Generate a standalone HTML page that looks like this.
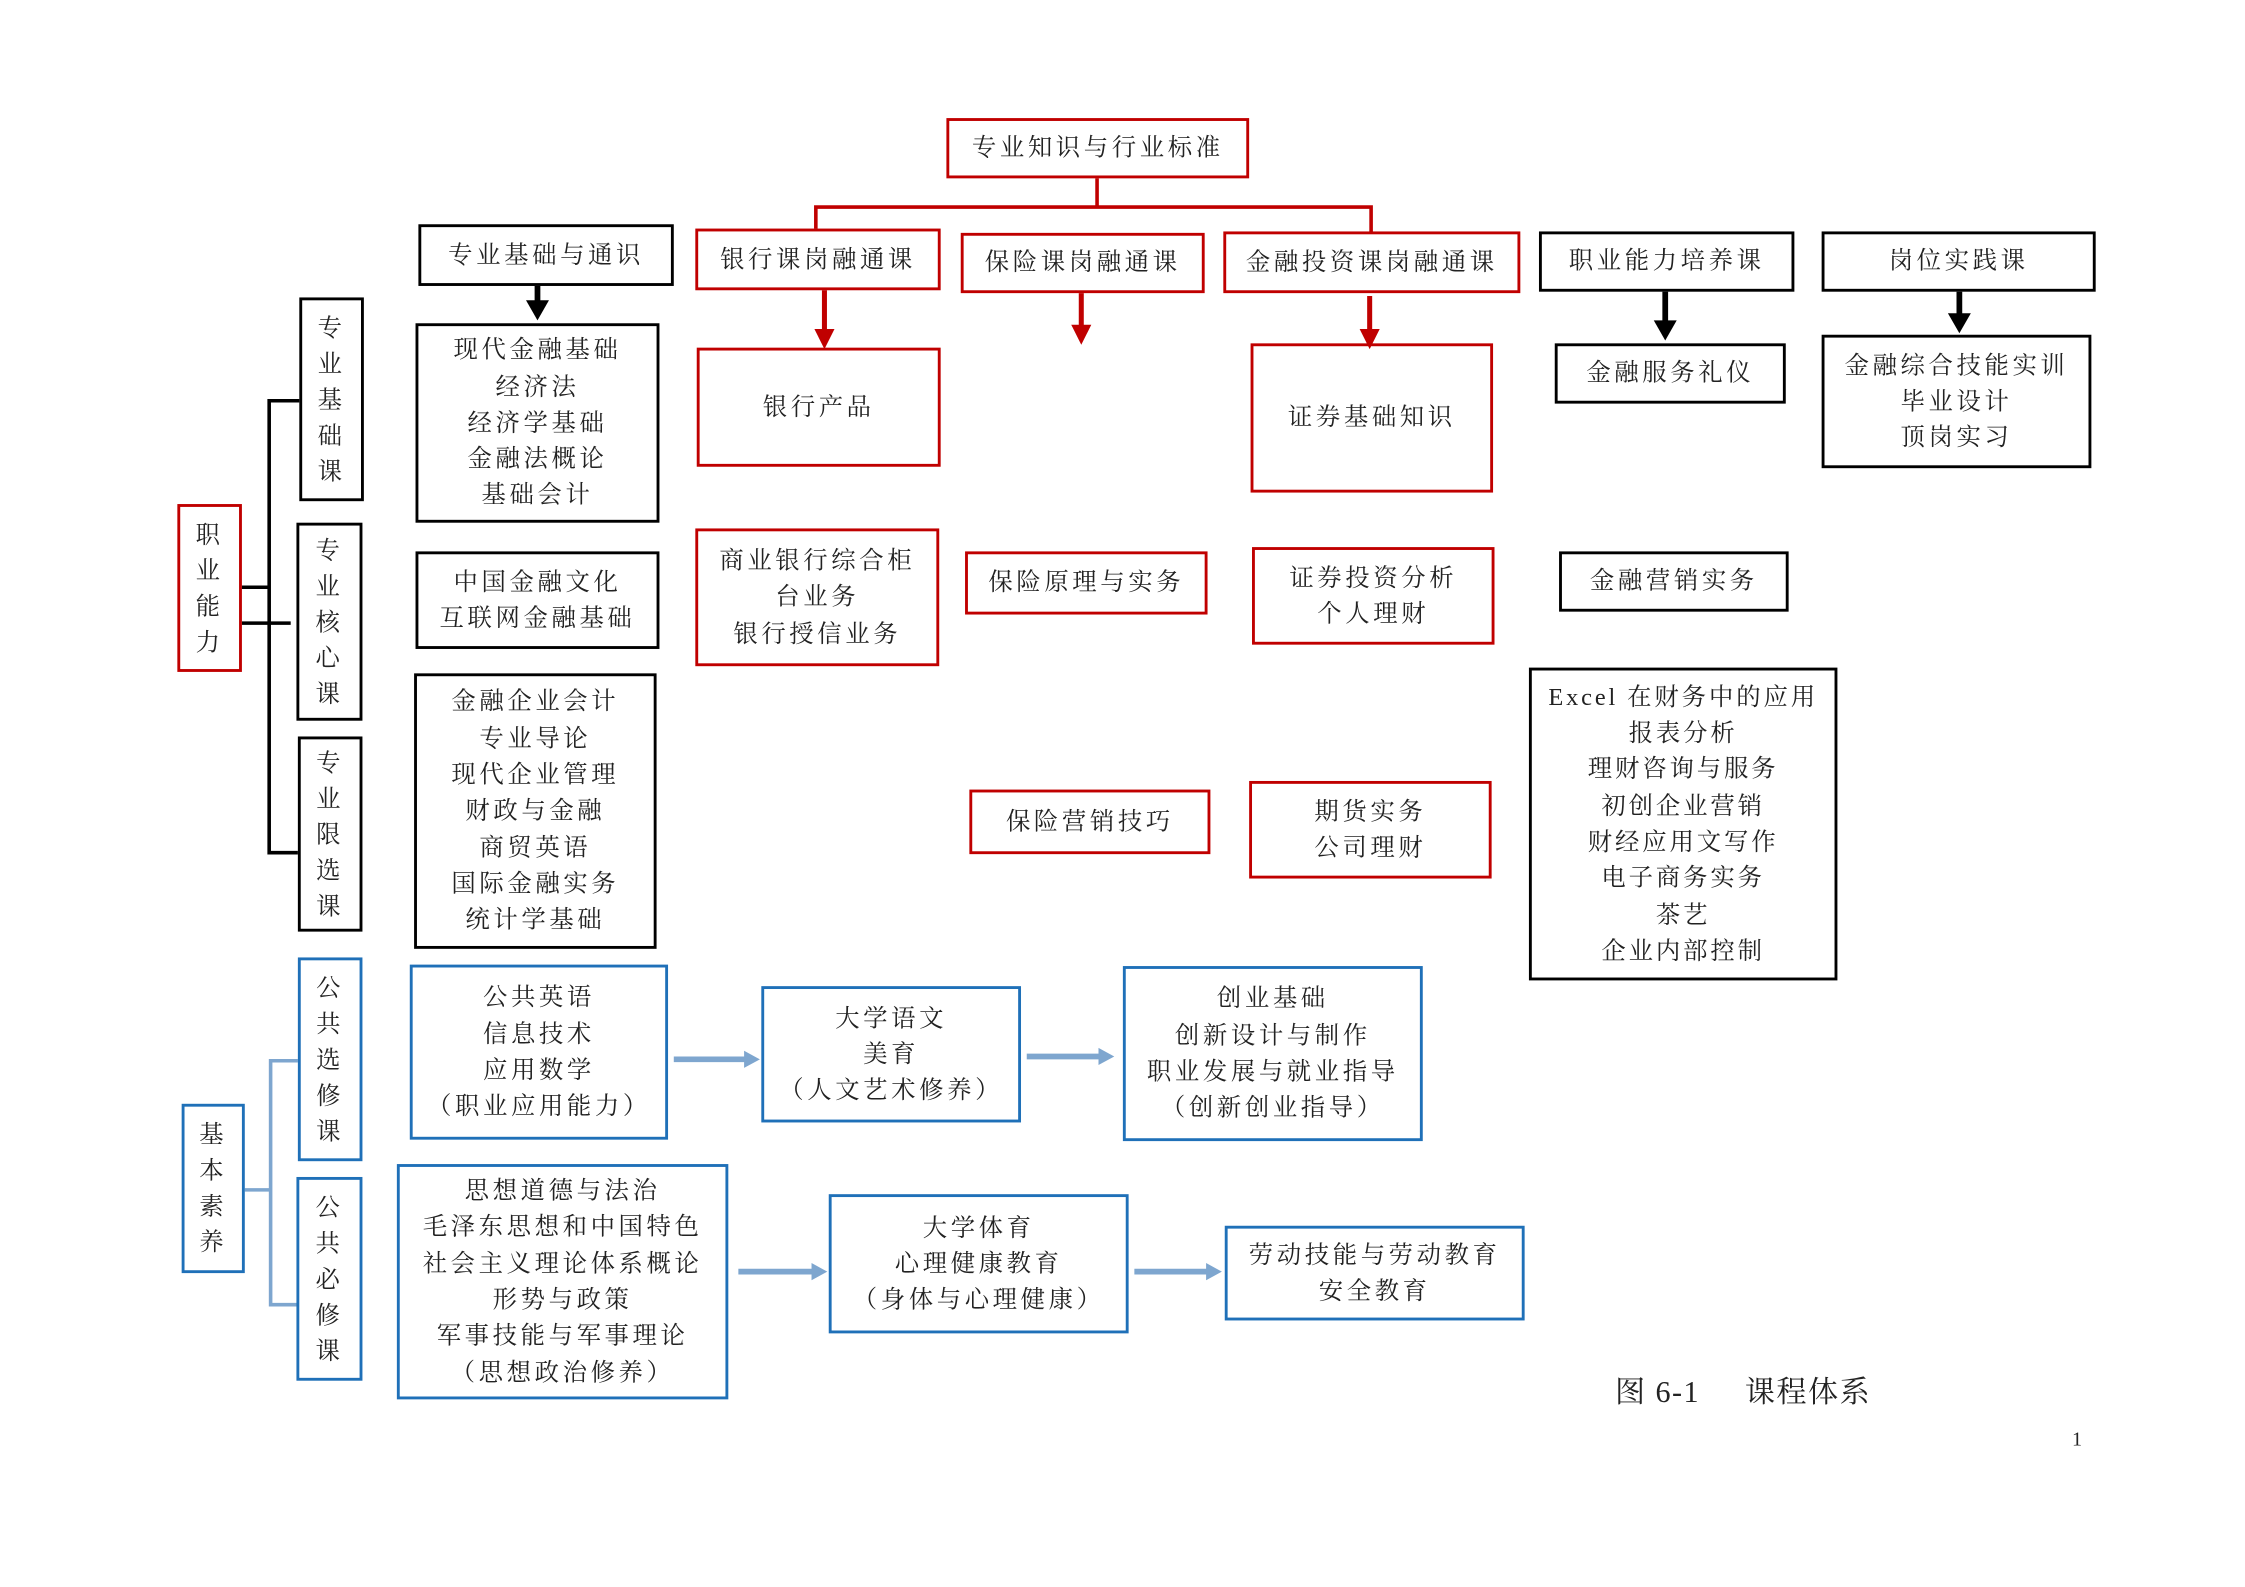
<!DOCTYPE html>
<html><head><meta charset="utf-8">
<style>
html,body{margin:0;padding:0;background:#fff;width:2245px;height:1587px;overflow:hidden}
#w{position:absolute;left:-2px;top:-1px;width:1560px;height:1103px;transform:scale(1.4348);transform-origin:0 0}
.b{position:absolute;box-sizing:border-box;display:flex;align-items:center;justify-content:center;text-align:center;
font-family:"Liberation Serif","Noto Serif CJK SC",serif;font-size:17px;line-height:25.3px;letter-spacing:2.5px;color:#222;white-space:nowrap}
.r{border:2.5px solid #c00000}
.k{border:2.5px solid #000}
.u{border:2.5px solid #1f70b8}
.v{line-height:25px}
svg{position:absolute;left:0;top:0}
</style></head><body><div id="w">
<svg width="1560" height="1103">
<g stroke="#c00000" stroke-width="2.5" fill="none">
<polyline points="766,125 766,145"/><polyline points="570,160 570,145 957,145 957,162"/>
</g>
<g stroke="#c00000" stroke-width="3.5"><line x1="576" y1="203" x2="576" y2="232"/><line x1="755" y1="205" x2="755" y2="229"/><line x1="956" y1="207" x2="956" y2="232"/></g>
<g fill="#c00000"><polygon points="569,230 583,230 576,244"/><polygon points="748,227 762,227 755,241"/><polygon points="949,230 963,230 956,244"/></g>
<g stroke="#000" stroke-width="4"><line x1="376" y1="200" x2="376" y2="212"/><line x1="1162" y1="204" x2="1162" y2="226"/><line x1="1367" y1="204" x2="1367" y2="220"/></g>
<g fill="#000"><polygon points="368,210 384,210 376,224"/><polygon points="1154,224 1170,224 1162,238"/><polygon points="1359,219 1375,219 1367,233"/></g>
<g stroke="#000" stroke-width="2.5" fill="none">
<polyline points="210,280 189,280 189,595 209,595"/><line x1="170" y1="410" x2="189" y2="410"/><line x1="170" y1="435" x2="204" y2="435"/>
</g>
<g stroke="#7ea6cf" stroke-width="2.5" fill="none">
<polyline points="209,740 190,740 190,910 209,910"/><line x1="172" y1="830" x2="190" y2="830"/>
</g>
<g stroke="#7ea6cf" stroke-width="4"><line x1="471" y1="739" x2="522" y2="739"/><line x1="717" y1="737" x2="769" y2="737"/><line x1="516" y1="887" x2="569" y2="887"/><line x1="792" y1="887" x2="844" y2="887"/></g>
<g fill="#7ea6cf"><polygon points="520,733 531,739 520,745"/><polygon points="767,731 778,737 767,743"/><polygon points="567,881 578,887 567,893"/><polygon points="842,881 853,887 842,893"/></g>
</svg>

<div class="b r" style="left:661px;top:83px;width:211px;height:42px">专业知识与行业标准</div>
<div class="b r" style="left:486px;top:160px;width:171px;height:43px">银行课岗融通课</div>
<div class="b r" style="left:671px;top:163px;width:170px;height:42px">保险课岗融通课</div>
<div class="b r" style="left:854px;top:162px;width:207px;height:43px">金融投资课岗融通课</div>
<div class="b r" style="left:487px;top:243px;width:170px;height:83px">银行产品</div>
<div class="b r" style="left:873px;top:240px;width:169px;height:104px">证券基础知识</div>
<div class="b r" style="left:486px;top:369px;width:170px;height:96px">商业银行综合柜<br>台业务<br>银行授信业务</div>
<div class="b r" style="left:674px;top:385px;width:169px;height:44px">保险原理与实务</div>
<div class="b r" style="left:874px;top:382px;width:169px;height:68px">证券投资分析<br>个人理财</div>
<div class="b r" style="left:677px;top:551px;width:168px;height:45px">保险营销技巧</div>
<div class="b r" style="left:872px;top:545px;width:169px;height:68px">期货实务<br>公司理财</div>
<div class="b r v" style="left:125px;top:352px;width:45px;height:117px">职<br>业<br>能<br>力</div>

<div class="b k" style="left:293px;top:157px;width:178px;height:43px">专业基础与通识</div>
<div class="b k" style="left:291px;top:226px;width:170px;height:139px">现代金融基础<br>经济法<br>经济学基础<br>金融法概论<br>基础会计</div>
<div class="b k" style="left:291px;top:385px;width:170px;height:68px">中国金融文化<br>互联网金融基础</div>
<div class="b k" style="left:290px;top:470px;width:169px;height:192px">金融企业会计<br>专业导论<br>现代企业管理<br>财政与金融<br>商贸英语<br>国际金融实务<br>统计学基础</div>
<div class="b k" style="left:1074px;top:162px;width:178px;height:42px">职业能力培养课</div>
<div class="b k" style="left:1085px;top:240px;width:161px;height:42px">金融服务礼仪</div>
<div class="b k" style="left:1271px;top:162px;width:191px;height:42px">岗位实践课</div>
<div class="b k" style="left:1271px;top:234px;width:188px;height:93px">金融综合技能实训<br>毕业设计<br>顶岗实习</div>
<div class="b k" style="left:1088px;top:385px;width:160px;height:42px">金融营销实务</div>
<div class="b k" style="left:1067px;top:466px;width:215px;height:218px;letter-spacing:2px">Excel 在财务中的应用<br>报表分析<br>理财咨询与服务<br>初创企业营销<br>财经应用文写作<br>电子商务实务<br>茶艺<br>企业内部控制</div>
<div class="b k v" style="left:210px;top:208px;width:45px;height:142px">专<br>业<br>基<br>础<br>课</div>
<div class="b k v" style="left:208px;top:365px;width:46px;height:138px">专<br>业<br>核<br>心<br>课</div>
<div class="b k v" style="left:209px;top:514px;width:45px;height:136px">专<br>业<br>限<br>选<br>课</div>

<div class="b u v" style="left:209px;top:668px;width:45px;height:142px">公<br>共<br>选<br>修<br>课</div>
<div class="b u v" style="left:208px;top:821px;width:46px;height:142px">公<br>共<br>必<br>修<br>课</div>
<div class="b u v" style="left:128px;top:770px;width:44px;height:118px">基<br>本<br>素<br>养</div>
<div class="b u" style="left:287px;top:673px;width:180px;height:122px">公共英语<br>信息技术<br>应用数学<br>（职业应用能力）</div>
<div class="b u" style="left:532px;top:688px;width:181px;height:95px">大学语文<br>美育<br>（人文艺术修养）</div>
<div class="b u" style="left:784px;top:674px;width:209px;height:122px">创业基础<br>创新设计与制作<br>职业发展与就业指导<br>（创新创业指导）</div>
<div class="b u" style="left:278px;top:812px;width:231px;height:164px">思想道德与法治<br>毛泽东思想和中国特色<br>社会主义理论体系概论<br>形势与政策<br>军事技能与军事理论<br>（思想政治修养）</div>
<div class="b u" style="left:579px;top:833px;width:209px;height:97px">大学体育<br>心理健康教育<br>（身体与心理健康）</div>
<div class="b u" style="left:855px;top:855px;width:209px;height:66px">劳动技能与劳动教育<br>安全教育</div>

<div class="b" style="left:1127px;top:956px;width:200px;height:32px;justify-content:flex-start;font-size:21px;letter-spacing:1px">图 6-1&nbsp;&nbsp;&nbsp;&nbsp;&nbsp;课程体系</div>
<div class="b" style="left:1442px;top:995px;width:14px;height:20px;font-size:14px;letter-spacing:0">1</div>
</div></body></html>
